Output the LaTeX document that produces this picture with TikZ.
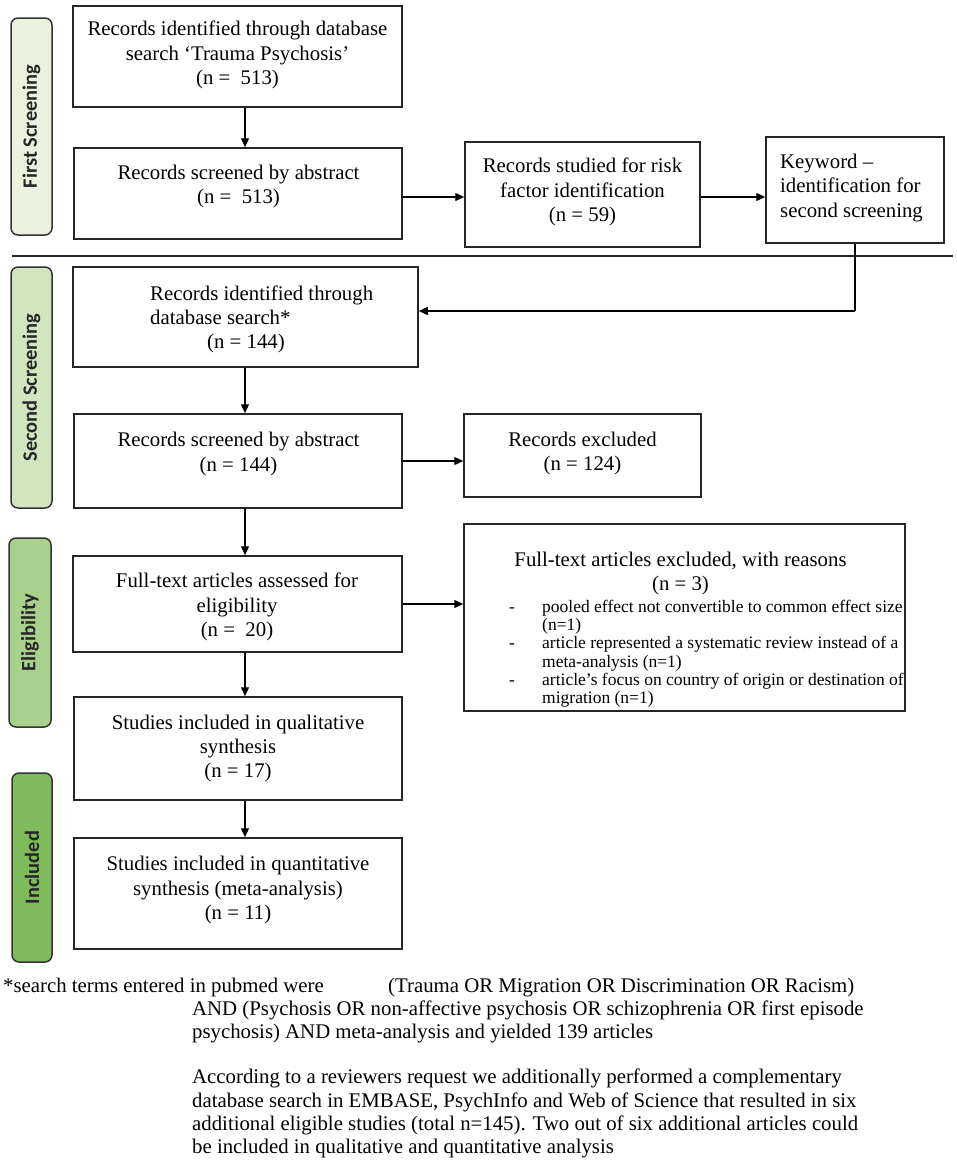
\documentclass[tikz,border=0pt]{standalone}
\usepackage{fontspec}
\setmainfont{Liberation Serif}
\newfontfamily\labfont{Carlito}
\usetikzlibrary{arrows.meta,calc}
\definecolor{labA}{HTML}{EAF1DD}
\definecolor{labB}{HTML}{D2E5BF}
\definecolor{labC}{HTML}{A9D18E}
\definecolor{labD}{HTML}{80BB5B}
\begin{document}
\begin{tikzpicture}[x=1pt,y=-1pt,
  box/.style={draw=black!85, line width=1.5pt, inner sep=0pt},
  txt/.style={inner sep=0pt, font=\fontsize{20.8}{24.2}\selectfont, align=center},
  txtl/.style={inner sep=0pt, font=\fontsize{20.8}{24.2}\selectfont, align=left},
  foot/.style={inner sep=0pt, anchor=base west, font=\fontsize{20.8}{23.3}\selectfont},
  lab/.style={draw=black!80, line width=1.5pt, rounded corners=7pt, inner sep=0pt},
  labtxt/.style={rotate=90, inner sep=0pt, font=\labfont\bfseries\fontsize{20.4}{24}\selectfont, text=black!85},
  arr/.style={line width=1.3pt, -{Triangle[length=9pt,width=8pt]}},
  conn/.style={line width=1.3pt}]
\useasboundingbox (0,0) rectangle (957,1175);

% side labels
\node[lab, fill=labA, minimum width=41pt, minimum height=217pt] (L1) at (31.5,126.5) {};
\node[labtxt] (L1t) at (L1.center) {First Screening};
\node[lab, fill=labB, minimum width=41pt, minimum height=241pt] (L2) at (31.5,387.5) {};
\node[labtxt] (L2t) at (L2.center) {Second Screening};
\node[lab, fill=labC, minimum width=42pt, minimum height=189pt] (L3) at (30,632.5) {};
\node[labtxt] (L3t) at (L3.center) {Eligibility};
\node[lab, fill=labD, minimum width=40pt, minimum height=189pt] (L4) at (32,867.5) {};
\node[labtxt] (L4t) at (L4.center) {Included};

% separator rule
\coordinate (ruleL) at (12,255.5);
\coordinate (ruleR) at (953,255.5);
\draw[line width=2pt, black!85] (ruleL) -- (ruleR);

% boxes
\node[box, minimum width=329pt, minimum height=101pt] (A) at (237.5,56.5) {};
\node[box, minimum width=328pt, minimum height=91pt] (B) at (238,193.5) {};
\node[box, minimum width=235pt, minimum height=105pt] (C) at (582.5,194.5) {};
\node[box, minimum width=178pt, minimum height=106pt] (D) at (855,190) {};
\node[box, minimum width=345pt, minimum height=100pt] (E) at (245.5,317) {};
\node[box, minimum width=328pt, minimum height=94pt] (F) at (238,461) {};
\node[box, minimum width=237pt, minimum height=83pt] (G) at (582.5,455.5) {};
\node[box, minimum width=329pt, minimum height=96pt] (H) at (237.5,604) {};
\node[box, minimum width=441pt, minimum height=187pt] (I) at (684.5,617.5) {};
\node[box, minimum width=328pt, minimum height=103pt] (J) at (238,748.5) {};
\node[box, minimum width=328pt, minimum height=111pt] (K) at (238,893.5) {};

% box texts
\node[txt] (At) at (237.5,55) {Records identified through database\\search ‘Trauma Psychosis’\\(n =\ \ 513)};
\node[txt] (Bt) at (238.5,186.5) {Records screened by abstract\\(n =\ \ 513)};
\node[txt] (Ct) at (582.5,192) {Records studied for risk\\factor identification\\(n = 59)};
\node[txtl, anchor=west] (Dt) at (780,188) {Keyword –\\identification for\\second screening};
\node[txtl, anchor=west] (Et) at (150,305.5) {Records identified through\\database search*};
\node[txt] (Et2) at (246,343) {(n = 144)};
\node[txt] (Ft) at (238.5,454) {Records screened by abstract\\(n = 144)};
\node[txt] (Gt) at (582.5,453.5) {Records excluded\\(n = 124)};
\node[txt] (Ht) at (237,607) {Full-text articles assessed for\\eligibility\\(n =\ \ 20)};
\node[txt] (Jt) at (238,748.5) {Studies included in qualitative\\synthesis\\(n = 17)};
\node[txt] (Kt) at (238,890) {Studies included in quantitative\\synthesis (meta-analysis)\\(n = 11)};
\node[txt] (It) at (680.5,573.5) {Full-text articles excluded, with reasons\\(n = 3)};
\node[inner sep=0pt, anchor=north west, font=\fontsize{17.5}{18.3}\selectfont] (Il) at (509,599.2) {%
\begin{tabular}{@{}p{33pt}@{}l@{}}
-&pooled effect not convertible to common effect size\\
&(n=1)\\
-&article represented a systematic review instead of a\\
&meta-analysis (n=1)\\
-&article’s focus on country of origin or destination of\\
&migration (n=1)
\end{tabular}};

% connectors
\coordinate (colx) at (245,0);
\coordinate (r1) at (0,197);
\coordinate (r2) at (0,311);
\draw[arr] (A.south -| colx) -- (B.north -| colx);
\draw[arr] (B.east |- r1) -- (C.west |- r1);
\draw[arr] (C.east |- r1) -- (D.west |- r1);
\draw[conn] (D.south) -- (D.south |- r2);
\draw[arr] (D.south |- r2) -- (E.east |- r2);
\draw[arr] (E.south -| colx) -- (F.north -| colx);
\draw[arr] (F.east) -- (F.east -| G.west);
\draw[arr] (F.south -| colx) -- (H.north -| colx);
\draw[arr] (H.east) -- (H.east -| I.west);
\draw[arr] (H.south -| colx) -- (J.north -| colx);
\draw[arr] (J.south -| colx) -- (K.north -| colx);

% footnote
\node[foot] (f1) at (3,992) {*search terms entered in pubmed were};
\node[foot] (f1b) at (388,992) {(Trauma OR Migration OR Discrimination OR Racism)};
\node[foot] (f2) at (192,1015) {AND (Psychosis OR non-affective psychosis OR schizophrenia OR first episode};
\node[foot] (f3) at (192,1038) {psychosis) AND meta-analysis and yielded 139 articles};
\node[foot] (f4) at (192,1083) {According to a reviewers request we additionally performed a complementary};
\node[foot] (f5) at (192,1107) {database search in EMBASE, PsychInfo and Web of Science that resulted in six};
\node[foot] (f6) at (192,1130) {additional eligible studies (total n=145). Two out of six additional articles could};
\node[foot] (f7) at (192,1153) {be included in qualitative and quantitative analysis};
\end{tikzpicture}
\end{document}
